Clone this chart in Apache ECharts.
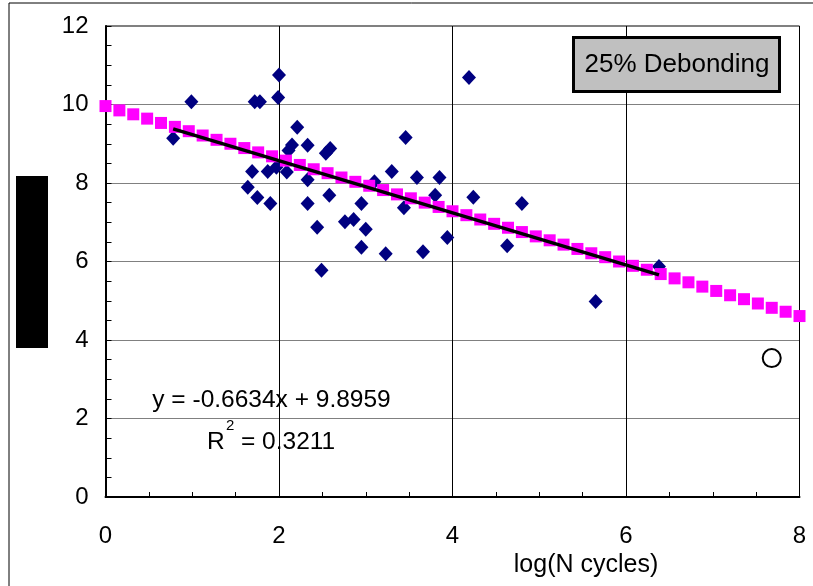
<!DOCTYPE html>
<html>
<head>
<meta charset="utf-8">
<script src="https://cdn.jsdelivr.net/npm/echarts@6/dist/echarts.min.js"></script>
<style>html,body{margin:0;padding:0;background:#fff;}#c{width:813px;height:586px;}</style>
</head>
<body>
<div id="c"></div>
<script>
// Measured data (diamonds)
const dataX = [0.78,0.99,1.72,1.78,2.00,1.99,2.21,2.15,2.11,2.33,2.59,2.54,1.69,1.87,1.97,2.09,2.33,1.64,1.75,1.90,2.33,2.58,2.44,2.76,2.86,2.49,4.19,3.46,3.30,3.59,3.85,3.10,2.95,3.44,3.80,4.24,4.80,3.00,2.95,3.23,3.66,3.94,4.63,5.65,6.38];
const dataY = [9.14,10.07,10.07,10.07,10.75,10.18,9.42,8.97,8.83,8.96,8.88,8.76,8.29,8.29,8.40,8.28,8.08,7.89,7.63,7.48,7.48,7.69,6.87,7.01,7.07,5.78,10.69,9.16,8.29,8.14,8.14,8.03,7.48,7.37,7.69,7.64,7.48,6.82,6.36,6.20,6.25,6.61,6.40,4.98,5.87];
// Model (magenta squares)
const modelX = [0,0.16,0.32,0.48,0.64,0.8,0.96,1.12,1.28,1.44,1.6,1.76,1.92,2.08,2.24,2.4,2.56,2.72,2.88,3.04,3.2,3.36,3.52,3.68,3.84,4.0,4.16,4.32,4.48,4.64,4.8,4.96,5.12,5.28,5.44,5.6,5.76,5.92,6.08,6.24,6.4,6.56,6.72,6.88,7.04,7.2,7.36,7.52,7.68,7.84,8.0];
const modelY = [9.96,9.85,9.75,9.64,9.53,9.43,9.32,9.21,9.10,9.00,8.89,8.78,8.68,8.57,8.46,8.35,8.25,8.14,8.03,7.93,7.82,7.71,7.61,7.50,7.39,7.28,7.18,7.07,6.96,6.86,6.75,6.64,6.54,6.43,6.32,6.21,6.11,6.00,5.89,5.79,5.68,5.57,5.47,5.36,5.25,5.14,5.04,4.93,4.82,4.72,4.61];
// Trend line endpoints
const trendX = [0.78, 6.38];
const trendY = [9.38, 5.66];
// Open circle point
const circleX = [7.68];
const circleY = [3.54];
const xTicks = [0,2,4,6,8];
const yTicks = [0,2,4,6,8,10,12];
const legendText = '25% Debonding';
const eqText = 'y = -0.6634x + 9.8959';
const r2Text = 'R';
const r2Value = '= 0.3211';
const xAxisName = 'log(N cycles)';

const zip = (a,b) => a.map((v,i)=>[v,b[i]]);
const FONT = '"Liberation Sans", Arial, sans-serif';

const chart = echarts.init(document.getElementById('c'), null, {renderer:'canvas'});
chart.setOption({
  animation:false,
  backgroundColor:'#fff',
  grid:{left:105.5, right:13.5, top:26, bottom:89, show:true, borderColor:'#000', borderWidth:1, backgroundColor:'transparent'},
  xAxis:{type:'value', min:xTicks[0], max:xTicks[xTicks.length-1], interval:2,
    axisLine:{show:true, onZero:false, lineStyle:{color:'#000', width:2}},
    axisTick:{show:true, inside:true, length:6, lineStyle:{color:'#000'}},
    minorTick:{show:true, splitNumber:4, length:5, lineStyle:{color:'#000'}},
    splitLine:{show:true, lineStyle:{color:'#000', width:1}},
    axisLabel:{fontSize:24, color:'#000', fontFamily:FONT, margin:27}
  },
  yAxis:{type:'value', min:yTicks[0], max:yTicks[yTicks.length-1], interval:2,
    axisLine:{show:true, onZero:false, lineStyle:{color:'#000', width:2}},
    axisTick:{show:true, inside:true, length:6, lineStyle:{color:'#000'}},
    minorTick:{show:true, splitNumber:4, length:6, lineStyle:{color:'#000'}},
    splitLine:{show:true, lineStyle:{color:'#808080', width:1}},
    axisLabel:{fontSize:24, color:'#000', fontFamily:FONT, margin:17}
  },
  series:[
    {type:'scatter', data:zip(dataX,dataY), symbol:'diamond', symbolSize:[14,15], itemStyle:{color:'#000080', opacity:1}, z:3},
    {type:'scatter', data:zip(modelX,modelY), symbol:'rect', symbolSize:12, itemStyle:{color:'#ff00ff', opacity:1}, z:4},
    {type:'line', data:zip(trendX,trendY), symbol:'none', lineStyle:{color:'#000', width:3.5}, z:5},
    {type:'scatter', data:zip(circleX,circleY), symbol:'circle', symbolSize:18, itemStyle:{color:'#fff', borderColor:'#000', borderWidth:2, opacity:1}, z:5}
  ],
  graphic:[
    {type:'rect', shape:{x:9, y:3, width:900, height:700}, style:{fill:'none', stroke:'#000', lineWidth:1}, z:-10, silent:true},
    {type:'rect', shape:{x:16, y:176, width:32, height:172}, style:{fill:'#000'}, z:10},
    {type:'rect', shape:{x:573.5, y:37.5, width:206, height:54}, style:{fill:'#c0c0c0', stroke:'#000', lineWidth:3}, z:10},
    {type:'text', x:677, y:64.5, style:{text:legendText, font:'26px '+FONT, fill:'#000', align:'center', verticalAlign:'middle'}, z:11},
    {type:'text', x:271.5, y:400, style:{text:eqText, font:'24.5px '+FONT, fill:'#000', align:'center', verticalAlign:'middle'}, z:11},
    {type:'text', x:207, y:442, style:{text:r2Text, font:'24.5px '+FONT, fill:'#000', align:'left', verticalAlign:'middle'}, z:11},
    {type:'text', x:226, y:426, style:{text:'2', font:'15px '+FONT, fill:'#000', align:'left', verticalAlign:'middle'}, z:11},
    {type:'text', x:241, y:442, style:{text:r2Value, font:'24.5px '+FONT, fill:'#000', align:'left', verticalAlign:'middle'}, z:11},
    {type:'text', x:586, y:565, style:{text:xAxisName, font:'25px '+FONT, fill:'#000', align:'center', verticalAlign:'middle'}, z:11}
  ]
});
</script>
</body>
</html>
